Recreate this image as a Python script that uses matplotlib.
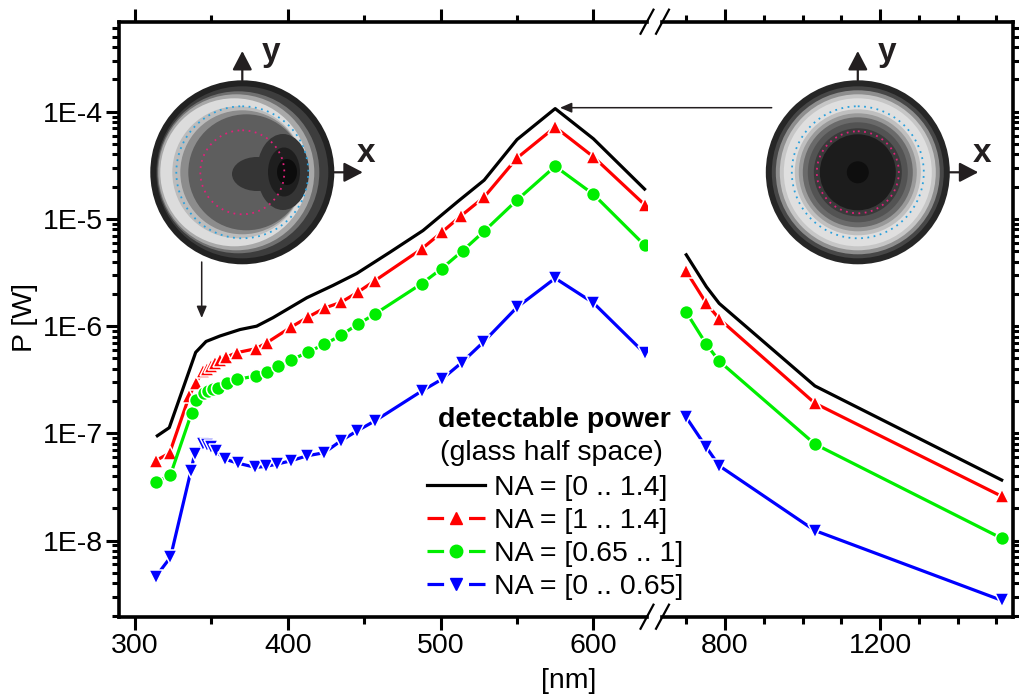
import numpy as np
import matplotlib.pyplot as plt
from matplotlib.lines import Line2D
from matplotlib.patches import Circle, Ellipse
from matplotlib.legend_handler import HandlerTuple
from matplotlib.ticker import FixedLocator, FuncFormatter, LogLocator, NullFormatter

plt.rcParams['font.family'] = ['Liberation Sans', 'DejaVu Sans']
plt.rcParams['font.size'] = 20.5

# ---------------- data: visible range (left panel) ----------------
wl_k = [314.6, 322.4, 339.7, 346.5, 355.6, 368.7, 379.6, 390.3, 412.4, 429.6,
        445.1, 466.9, 488.5, 511.4, 528.5, 550, 575, 600, 633.5]
p_k = [9.5e-8, 1.13e-7, 5.7e-7, 7.2e-7, 8.1e-7, 9.3e-7, 1.0e-6, 1.2e-6, 1.84e-6, 2.4e-6,
       3.1e-6, 4.9e-6, 7.8e-6, 1.46e-5, 2.3e-5, 5.5e-5, 1.07e-4, 5.6e-5, 1.9e-5]

wl_r = [313.4, 322.6, 335.5, 339.7, 344.7, 346.9, 349.7, 352.4, 355.6, 359.6, 366.6,
        379.2, 386.2, 402.1, 413.4, 424.3, 434.8, 445.7, 457.1, 487.6, 500.7, 513.4,
        528.5, 550, 575, 600, 633.5]
p_r = [5.55e-8, 6.55e-8, 2.23e-7, 2.97e-7, 3.81e-7, 4.0e-7, 4.25e-7, 4.5e-7, 4.8e-7, 5.15e-7,
       5.66e-7, 6.17e-7, 7.0e-7, 9.8e-7, 1.22e-6, 1.48e-6, 1.67e-6, 2.07e-6, 2.66e-6,
       5.25e-6, 7.5e-6, 1.07e-5, 1.6e-5, 3.7e-5, 7.2e-5, 3.8e-5, 1.36e-5]

wl_g = [313.7, 323.2, 337.1, 339.9, 345.2, 348.0, 351.2, 354.5, 360.0, 366.6, 379.2,
        386.6, 393.4, 402.1, 413.0, 423.9, 434.6, 445.7, 457.1, 487.6, 500.7, 514.5,
        528.4, 550, 575, 600, 633.5]
p_g = [3.49e-8, 4.11e-8, 1.56e-7, 2.04e-7, 2.4e-7, 2.48e-7, 2.58e-7, 2.67e-7, 2.97e-7,
       3.19e-7, 3.43e-7, 3.77e-7, 4.25e-7, 4.8e-7, 5.73e-7, 6.76e-7, 8.19e-7, 1.04e-6,
       1.3e-6, 2.49e-6, 3.44e-6, 5.06e-6, 7.66e-6, 1.5e-5, 3.1e-5, 1.7e-5, 5.7e-6]

wl_b = [313.4, 323.2, 336.6, 339.0, 344.7, 347.1, 349.7, 353.0, 358.9, 367.1, 378.8,
        385.7, 392.8, 402.1, 412.6, 423.9, 434.6, 445.1, 457.1, 487.6, 500.7, 513.8,
        528.0, 550, 575, 600, 633.5]
p_b = [4.57e-9, 7.0e-9, 4.48e-8, 6.4e-8, 7.94e-8, 7.77e-8, 7.45e-8, 6.8e-8, 5.75e-8,
       5.28e-8, 4.82e-8, 4.92e-8, 5.17e-8, 5.55e-8, 6.18e-8, 6.6e-8, 8.5e-8, 1.05e-7,
       1.31e-7, 2.48e-7, 3.19e-7, 4.57e-7, 7.1e-7, 1.5e-6, 2.8e-6, 1.65e-6, 5.6e-7]

# ---------------- data: near infrared (right panel) ----------------
wl_nir = [700, 752, 785, 1032, 1514]
p_k_nir = [4.63e-6, 2.33e-6, 1.63e-6, 2.77e-7, 3.67e-8]
p_r_nir = [3.25e-6, 1.63e-6, 1.17e-6, 1.91e-7, 2.59e-8]
p_g_nir = [1.35e-6, 6.76e-7, 4.72e-7, 7.94e-8, 1.05e-8]
p_b_nir = [1.41e-7, 7.4e-8, 4.99e-8, 1.24e-8, 2.77e-9]

labels = ['NA = [0 .. 1.4]', 'NA = [1 .. 1.4]', 'NA = [0.65 .. 1]', 'NA = [0 .. 0.65]']
colors = ['black', '#ff0000', '#00ee00', '#0000ff']
markers = [None, '^', 'o', 'v']

W, H = 1019, 698
fig = plt.figure(figsize=(W / 100, H / 100), dpi=100)


def box(x0, y0, x1, y1):
    return [x0 / W, 1 - y1 / H, (x1 - x0) / W, (y1 - y0) / H]


ax1 = fig.add_axes(box(119.3, 21.7, 647, 616.7))
ax2 = fig.add_axes(box(662, 21.7, 1013.3, 616.7))

vis = [(wl_k, p_k), (wl_r, p_r), (wl_g, p_g), (wl_b, p_b)]
nir = [(wl_nir, p_k_nir), (wl_nir, p_r_nir), (wl_nir, p_g_nir), (wl_nir, p_b_nir)]

for ax, series in ((ax1, vis), (ax2, nir)):
    for (x, y), c, m in zip(series, colors, markers):
        ax.plot(x, y, color=c, lw=2.3, marker=m, ms=10, mfc=c, mec='white', mew=1.1)
    ax.set_yscale('log')
    ax.set_ylim(10 ** -8.71, 10 ** -3.16)
    ax.yaxis.set_major_locator(LogLocator(base=10))
    ax.yaxis.set_minor_locator(LogLocator(base=10, subs=np.arange(2, 10)))
    ax.yaxis.set_minor_formatter(NullFormatter())
    for s in ax.spines.values():
        s.set_linewidth(2.6)
    ax.tick_params(which='both', direction='out', width=2.2, top=True, pad=2,
                   labelsize=20.5)
    ax.tick_params(which='major', length=9.5)
    ax.tick_params(which='minor', length=5)

ax1.set_xlim(289.7, 635.1)
ax1.xaxis.set_major_locator(FixedLocator([300, 400, 500, 600]))
ax1.xaxis.set_minor_locator(FixedLocator([350, 450, 550]))
ax1.spines['right'].set_visible(False)
ax1.tick_params(which='both', right=False)
ax1.yaxis.set_major_formatter(FuncFormatter(lambda v, _: '1E%d' % round(np.log10(v))))

ax2.set_xlim(637.4, 1544)
ax2.xaxis.set_major_locator(FixedLocator([800, 1200]))
ax2.xaxis.set_minor_locator(FixedLocator([700, 900, 1000, 1100, 1300, 1400, 1500]))
ax2.spines['left'].set_visible(False)
ax2.tick_params(which='both', left=False, right=True, labelleft=False)

fig.text(568.3 / W, 1 - 688.5 / H, '[nm]', ha='center', va='baseline', fontsize=20.5)
fig.text(25 / W, 1 - 317 / H, 'P [W]', ha='center', va='center', rotation=90, fontsize=20.5)

# legend: broken line with the symbol sitting in the gap
handles = []
for c, m in zip(colors, markers):
    if m is None:
        handles.append(Line2D([], [], color=c, lw=2.3))
    else:
        handles.append((Line2D([], [], color=c, lw=2.3, ls=(0, (5.2, 7.8))),
                        Line2D([], [], ls='none', color=c, marker=m, ms=9)))
fig.legend(handles, labels, handler_map={tuple: HandlerTuple(ndivide=1, pad=0)},
           loc='upper left', bbox_to_anchor=(426.7 / W, 1 - 475 / H),
           frameon=False, borderpad=0, borderaxespad=0, handlelength=2.05,
           handletextpad=0.31, labelspacing=0.24, fontsize=20.5)
fig.text(554 / W, 1 - 426.7 / H, 'detectable power', ha='center', va='baseline',
         fontsize=20.5, fontweight='bold')
fig.text(551 / W, 1 - 460 / H, '(glass half space)', ha='center', va='baseline',
         fontsize=20.5)

# overlay in pixel coordinates for the pupil maps, arrows and axis breaks
ov = fig.add_axes([0, 0, 1, 1], zorder=5)
ov.set_xlim(0, W)
ov.set_ylim(H, 0)
ov.axis('off')
ink = '#231f20'

# axis break marks
for yb in (21.7, 616.7):
    for xb in (647, 662.5):
        ov.plot([xb - 7, xb + 7], [yb + 13, yb - 13], color='black', lw=1.6,
                solid_capstyle='butt')


def rings(cx, cy, layers):
    for dx, r, col in layers:
        ov.add_patch(Circle((cx + dx, cy), r, color=col, lw=0))


# left pupil map (asymmetric)
lx, ly = 242.3, 172.3
rings(lx, ly, [(0, 92, '#222222'), (0, 86, '#3d3d3d'), (-4, 81, '#707070'),
               (-6, 78, '#a8a8a8'), (-8, 74, '#dcdcdc'), (-4, 66, '#bcbcbc'),
               (0, 62, '#8c8c8c'), (4, 58, '#5e5e5e')])
ov.add_patch(Ellipse((283, 172), 52, 76, color='#353535', lw=0))
ov.add_patch(Ellipse((257, 174), 50, 34, color='#353535', lw=0))
ov.add_patch(Ellipse((284, 172), 32, 49, color='#1e1e1e', lw=0))
ov.add_patch(Ellipse((287, 172), 20, 26, color='#0c0c0c', lw=0))
ov.add_patch(Circle((lx, ly), 66, fill=False, ls=(0, (1, 2.5)), lw=1.3, color='#2aa0dc'))
ov.add_patch(Circle((lx, ly), 42, fill=False, ls=(0, (1, 2.5)), lw=1.3, color='#e0207a'))

# right pupil map (symmetric)
rx, ry = 857.8, 172.3
rings(rx, ry, [(0, 92, '#262626'), (0, 86, '#474747'), (0, 82, '#8e8e8e'),
               (0, 78, '#c6c6c6'), (0, 74, '#dfdfdf'), (0, 63, '#bfbfbf'),
               (0, 59, '#999999'), (0, 55, '#6a6a6a'), (0, 50, '#535353'),
               (0, 44, '#3a3a3a'), (0, 38, '#1c1c1c'), (0, 11, '#0e0e0e')])
ov.add_patch(Circle((rx, ry), 66, fill=False, ls=(0, (1, 2.5)), lw=1.3, color='#2aa0dc'))
ov.add_patch(Circle((rx, ry), 41, fill=False, ls=(0, (1, 2.5)), lw=1.3, color='#e0207a'))

big = dict(arrowstyle='-|>,head_length=1.15,head_width=0.6', lw=1.6, color=ink,
           mutation_scale=10, shrinkA=0, shrinkB=0)
small = dict(arrowstyle='-|>,head_length=0.7,head_width=0.3', lw=1.1, color=ink,
             mutation_scale=10, shrinkA=0, shrinkB=0)
for cx, cy in ((lx, ly), (rx, ry)):
    ov.annotate('', xy=(cx, 51), xytext=(cx, cy - 92), arrowprops=big)
    ov.annotate('', xy=(cx + 120.5, cy), xytext=(cx + 92, cy), arrowprops=big)
    ov.text(cx + 29, 61.5, 'y', ha='center', va='baseline', fontsize=24,
            fontweight='bold', color=ink)
    ov.text(cx + 124, 162, 'x', ha='center', va='baseline', fontsize=24,
            fontweight='bold', color=ink)

ov.annotate('', xy=(201.7, 318), xytext=(201.7, 262), arrowprops=small)
ov.annotate('', xy=(560, 107.7), xytext=(771.7, 107.7), arrowprops=small)

fig.savefig('out.png', dpi=100)
